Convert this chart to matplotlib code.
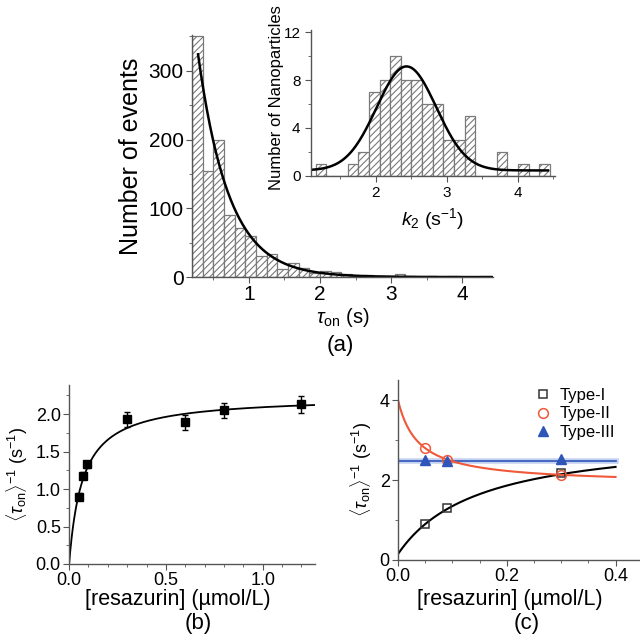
"""Recreate the three-panel turnover figure: tau_on histogram, titration, and types."""

import numpy as np
import matplotlib
matplotlib.use("Agg")
import matplotlib.pyplot as plt
from matplotlib.ticker import MultipleLocator


plt.rcParams["font.family"] = ["Liberation Sans", "DejaVu Sans"]
plt.rcParams["mathtext.fontset"] = "custom"
plt.rcParams["mathtext.rm"] = "Liberation Sans"
plt.rcParams["mathtext.it"] = "Liberation Sans:italic"
plt.rcParams["hatch.linewidth"] = 0.8

# (a) histogram of tau_on, bins of 0.15 s starting at 0.2 s
TAU_BIN_START = 0.2
TAU_BIN_WIDTH = 0.15
tau_counts = [351, 155, 200, 90, 71, 60, 31, 33, 12, 20, 13, 6, 9, 8,
              4, 2, 3, 1, 1, 4, 1, 0, 1, 0, 1, 0, 0, 1]
tau_fit_amp = 624.0
tau_fit_rate = 2.3

# (a) inset: k2 histogram, bins of 0.15 s^-1 starting at 1.15
K2_BIN_START = 1.15
K2_BIN_WIDTH = 0.15
k2_counts = [1, 0, 0, 1, 2, 7, 8, 10, 8, 8, 6, 6, 3, 3, 5, 0, 0, 2, 0, 1, 0, 1]
k2_fit_base = 0.45
k2_fit_amp = 8.7
k2_fit_center = 2.43
k2_fit_sigma = 0.42

# (b) rate vs resazurin concentration
conc_b = [0.05, 0.07, 0.09, 0.3, 0.6, 0.8, 1.2]
rate_b = [0.90, 1.18, 1.33, 1.93, 1.89, 2.05, 2.13]
rate_b_err = [0.05, 0.05, 0.05, 0.10, 0.10, 0.10, 0.11]
fit_b_max = 2.24
fit_b_k = 0.07

# (c) three nanoparticle types
conc_c = [0.05, 0.09, 0.3]
type1 = [0.90, 1.30, 2.17]
type2 = [2.80, 2.50, 2.12]
type3 = [2.50, 2.48, 2.52]
fit1 = (0.15, 3.0, 0.15)      # offset, amplitude, K
fit2 = (1.9, 2.1, 0.0375)     # plateau, amplitude, K
fit3_level = 2.49

BAR_EDGE = "#7a7a7a"
RED = "#f0583a"
BLUE = "#2f55b8"
CONC_LABEL = "[resazurin] (\u00b5mol/L)"
RATE_LABEL = r"$\langle\tau_{\rm on}\rangle^{-1}$ (s$^{-1}$)"


def style_axes(ax, size, pad=3.5):
    for side in ("top", "right"):
        ax.spines[side].set_visible(False)
    for side in ("left", "bottom"):
        ax.spines[side].set_color("#555555")
        ax.spines[side].set_linewidth(1.0)
    ax.tick_params(which="both", direction="out", colors="#555555",
                   labelcolor="black", labelsize=size, pad=pad)
    ax.tick_params(which="major", length=4)
    ax.tick_params(which="minor", length=2)


def hist_bars(ax, start, width, counts):
    lefts = start + width * np.arange(len(counts))
    ax.bar(lefts, counts, width=width, align="edge", facecolor="white",
           edgecolor=BAR_EDGE, hatch="/////", linewidth=0.9)


def px_text(fig, x, y, text, **kw):
    fig.text(x / 640, 1 - y / 637, text, ha="center", va="center", **kw)


fig = plt.figure(figsize=(6.4, 6.37), dpi=100)

# ---- panel (a)
ax_a = fig.add_axes([0.300, 0.565, 0.470, 0.380])
hist_bars(ax_a, TAU_BIN_START, TAU_BIN_WIDTH, tau_counts)
x_tau = np.linspace(TAU_BIN_START + TAU_BIN_WIDTH / 2 + 0.01, 4.43, 300)
ax_a.plot(x_tau, tau_fit_amp * np.exp(-tau_fit_rate * x_tau), color="black", lw=1.8)
ax_a.set_xlim(0.2, 4.43)
ax_a.set_ylim(0, 352)
ax_a.xaxis.set_major_locator(MultipleLocator(1))
ax_a.xaxis.set_minor_locator(MultipleLocator(0.5))
ax_a.yaxis.set_major_locator(MultipleLocator(100))
ax_a.yaxis.set_minor_locator(MultipleLocator(50))
style_axes(ax_a, 15, pad=2)
ax_a.set_ylabel("Number of events", fontsize=18, labelpad=4)
ax_a.set_xlabel(r"$\tau_{\rm on}$ (s)", fontsize=14.5, labelpad=1)
px_text(fig, 340, 346, "(a)", fontsize=16)

# ---- inset
ax_in = fig.add_axes([0.486, 0.724, 0.381, 0.229])
hist_bars(ax_in, K2_BIN_START, K2_BIN_WIDTH, k2_counts)
x_k2 = np.linspace(1.1, 4.42, 300)
ax_in.plot(x_k2, k2_fit_base + k2_fit_amp *
           np.exp(-(x_k2 - k2_fit_center) ** 2 / (2 * k2_fit_sigma ** 2)),
           color="black", lw=1.8)
ax_in.set_xlim(1.085, 4.52)
ax_in.set_ylim(0, 12.2)
ax_in.xaxis.set_major_locator(MultipleLocator(1))
ax_in.xaxis.set_minor_locator(MultipleLocator(0.5))
ax_in.yaxis.set_minor_locator(MultipleLocator(2))
ax_in.set_yticks([0, 4, 8, 12])
style_axes(ax_in, 11)
ax_in.set_xlabel(r"$k_2$ (s$^{-1}$)", fontsize=14, labelpad=4)
fig.text(276 / 640, 1 - 190 / 637, "Number of Nanoparticles", fontsize=12,
         rotation=90, ha="center", va="bottom")

# ---- panel (b)
ax_b = fig.add_axes([0.108, 0.1146, 0.384, 0.281])
x_b = np.linspace(0, 1.27, 400)
ax_b.plot(x_b, fit_b_max * x_b / (fit_b_k + x_b), color="black", lw=1.3)
ax_b.errorbar(conc_b, rate_b, yerr=rate_b_err, fmt="s", color="black",
              ms=6, capsize=2.5, elinewidth=1, capthick=1)
ax_b.set_xlim(0, 1.27)
ax_b.set_ylim(0, 2.39)
ax_b.xaxis.set_major_locator(MultipleLocator(0.5))
ax_b.xaxis.set_minor_locator(MultipleLocator(0.1))
ax_b.yaxis.set_major_locator(MultipleLocator(0.5))
ax_b.yaxis.set_minor_locator(MultipleLocator(0.25))
ax_b.xaxis.set_major_formatter(plt.FormatStrFormatter("%.1f"))
ax_b.yaxis.set_major_formatter(plt.FormatStrFormatter("%.1f"))
style_axes(ax_b, 13, pad=2)
ax_b.set_ylabel(RATE_LABEL, fontsize=13)
px_text(fig, 178, 600, CONC_LABEL, fontsize=15.5)
px_text(fig, 198, 624, "(b)", fontsize=16)

# ---- panel (c)
ax_c = fig.add_axes([0.622, 0.121, 0.378, 0.283])
x_c = np.linspace(0, 0.4, 300)
ax_c.plot([0, 0.4], [fit3_level, fit3_level], color="#9db4e8", lw=4, alpha=0.6)
ax_c.plot([0, 0.4], [fit3_level, fit3_level], color=BLUE, lw=1.2)
ax_c.plot(x_c, fit1[0] + fit1[1] * x_c / (fit1[2] + x_c), color="black", lw=1.5)
ax_c.plot(x_c, fit2[0] + fit2[1] * fit2[2] / (fit2[2] + x_c), color=RED, lw=1.5)
ax_c.plot(conc_c, type1, "s", mfc="none", mec="#333333", ms=6, mew=1.1, label="Type-I")
ax_c.plot(conc_c, type2, "o", mfc="none", mec=RED, ms=7, mew=1.1, label="Type-II")
ax_c.plot(conc_c, type3, "^", color=BLUE, ms=7, label="Type-III")
ax_c.set_xlim(0, 0.445)
ax_c.set_ylim(0, 4.52)
ax_c.xaxis.set_major_locator(MultipleLocator(0.2))
ax_c.xaxis.set_minor_locator(MultipleLocator(0.05))
ax_c.yaxis.set_major_locator(MultipleLocator(2))
ax_c.yaxis.set_minor_locator(MultipleLocator(1))
ax_c.xaxis.set_major_formatter(plt.FormatStrFormatter("%.1f"))
style_axes(ax_c, 13, pad=2)
ax_c.set_ylabel(RATE_LABEL, fontsize=13)
ax_c.legend(loc="upper left", bbox_to_anchor=(0.53, 0.99), frameon=False,
            fontsize=12, handletextpad=0.4, labelspacing=0.2, borderaxespad=0,
            handlelength=1.2)
px_text(fig, 510, 600, CONC_LABEL, fontsize=15.5)
px_text(fig, 527, 624, "(c)", fontsize=16)

fig.savefig("out.png", dpi=100)
